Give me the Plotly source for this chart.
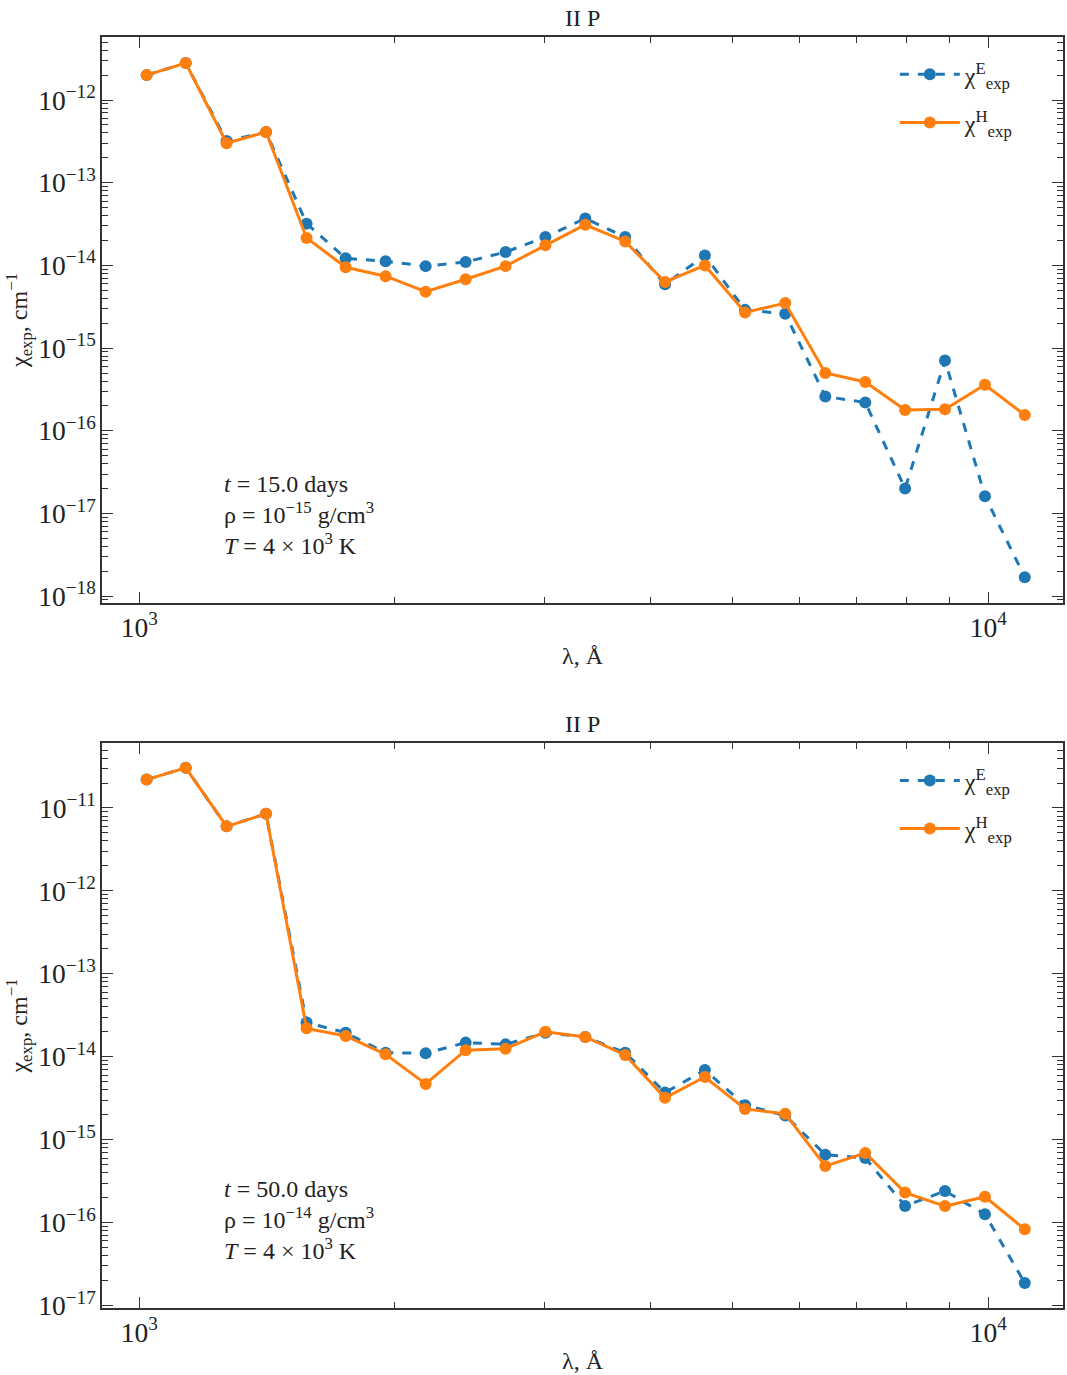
import plotly.graph_objects as go
from plotly.subplots import make_subplots

# wavelength grid, Angstrom
wavelength = [1020, 1134, 1267, 1410, 1574, 1750, 1950, 2174, 2423, 2700, 3008, 3352,
              3735, 4161, 4636, 5170, 5765, 6427, 7163, 7980, 8892, 9910, 11040]

# panel 1: t = 15 days
chi_E_15 = [2.0e-12, 2.8e-12, 3.2e-13, 4.1e-13, 3.2e-14, 1.22e-14, 1.12e-14, 9.8e-15,
            1.1e-14, 1.45e-14, 2.2e-14, 3.7e-14, 2.2e-14, 5.9e-15, 1.32e-14, 2.9e-15,
            2.6e-15, 2.6e-16, 2.2e-16, 2.0e-17, 7.1e-16, 1.62e-17, 1.7e-18]
chi_H_15 = [2.0e-12, 2.8e-12, 3.0e-13, 4.1e-13, 2.15e-14, 9.5e-15, 7.4e-15, 4.8e-15,
            6.8e-15, 9.8e-15, 1.75e-14, 3.1e-14, 1.95e-14, 6.3e-15, 1.0e-14, 2.7e-15,
            3.5e-15, 5.0e-16, 3.9e-16, 1.78e-16, 1.82e-16, 3.6e-16, 1.55e-16]

# panel 2: t = 50 days
chi_E_50 = [2.2e-11, 3.05e-11, 6.0e-12, 8.5e-12, 2.58e-14, 1.95e-14, 1.12e-14, 1.1e-14,
            1.48e-14, 1.41e-14, 1.95e-14, 1.73e-14, 1.12e-14, 3.7e-15, 6.9e-15, 2.6e-15,
            1.95e-15, 6.6e-16, 6.0e-16, 1.59e-16, 2.4e-16, 1.26e-16, 1.87e-17]
chi_H_50 = [2.2e-11, 3.05e-11, 6.0e-12, 8.5e-12, 2.2e-14, 1.78e-14, 1.07e-14, 4.7e-15,
            1.2e-14, 1.25e-14, 2.0e-14, 1.73e-14, 1.05e-14, 3.2e-15, 5.7e-15, 2.35e-15,
            2.05e-15, 4.8e-16, 6.9e-16, 2.3e-16, 1.58e-16, 2.05e-16, 8.3e-17]

panel_titles = ["II P", "II P"]
panel_notes = [
    "<i>t</i> = 15.0 days<br>ρ = 10<sup>−15</sup> g/cm<sup>3</sup><br><i>T</i> = 4 × 10<sup>3</sup> K",
    "<i>t</i> = 50.0 days<br>ρ = 10<sup>−14</sup> g/cm<sup>3</sup><br><i>T</i> = 4 × 10<sup>3</sup> K",
]
name_E = "χ<sup>E</sup><sub>exp</sub>"
name_H = "χ<sup>H</sup><sub>exp</sub>"

BLUE = "#1f77b4"
ORANGE = "#ff7f0e"
FONT = "Liberation Serif"

fig = make_subplots(rows=2, cols=1, vertical_spacing=0.11)

series = [(chi_E_15, chi_H_15, "legend"), (chi_E_50, chi_H_50, "legend2")]
for i, (e, h, lg) in enumerate(series, start=1):
    fig.add_trace(go.Scatter(x=wavelength, y=e, mode="lines+markers", name=name_E,
                             line=dict(color=BLUE, width=3, dash="dash"),
                             marker=dict(color=BLUE, size=12),
                             legend=lg, legendgroup=f"E{i}"), row=i, col=1)
    fig.add_trace(go.Scatter(x=wavelength, y=h, mode="lines+markers", name=name_H,
                             line=dict(color=ORANGE, width=3),
                             marker=dict(color=ORANGE, size=12),
                             legend=lg, legendgroup=f"H{i}"), row=i, col=1)

top_dom = [0.5547, 1.0]
bot_dom = [0.0, 0.4445]

axis_common = dict(type="log", showline=True, linecolor="#333", linewidth=1.5, mirror="allticks",
                   ticks="inside", ticklen=11, tickwidth=1.2, tickcolor="#333",
                   showgrid=False, zeroline=False,
                   tickfont=dict(family=FONT, size=22, color="#222"),
                   exponentformat="power", dtick=1,
                   minor=dict(ticks="inside", ticklen=6, tickwidth=1, tickcolor="#333",
                              dtick="D1", showgrid=False))

for r, dom, yr in [(1, top_dom, [-18.082, -11.238]), (2, bot_dom, [-17.03, -10.217])]:
    fig.update_xaxes(axis_common, row=r, col=1)
    fig.update_xaxes(range=[2.956, 4.088],
                     title=dict(text="λ, Å", font=dict(family=FONT, size=24, color="#222"), standoff=6),
                     row=r, col=1)
    fig.update_yaxes(axis_common, row=r, col=1)
    fig.update_yaxes(range=yr, domain=dom,
                     title=dict(text="χ<sub>exp</sub>, cm<sup>−1</sup>",
                                font=dict(family=FONT, size=24, color="#222"), standoff=4),
                     row=r, col=1)

legend_common = dict(xanchor="left", yanchor="top", bgcolor="rgba(0,0,0,0)",
                     font=dict(family=FONT, size=24), tracegroupgap=14, itemwidth=60)

fig.update_layout(
    width=1067, height=1375,
    margin=dict(l=102, r=2, t=37, b=67),
    paper_bgcolor="white", plot_bgcolor="white",
    font=dict(family=FONT, size=20, color="#222"),
    legend=dict(legend_common, x=0.825, y=0.988),
    legend2=dict(legend_common, x=0.825, y=0.4325),
)

# panel titles
for dom, title in zip([top_dom, bot_dom], panel_titles):
    fig.add_annotation(text=title, xref="paper", yref="paper", x=0.5, y=dom[1],
                       xanchor="center", yanchor="bottom", yshift=4, showarrow=False,
                       font=dict(family=FONT, size=24, color="#222"))

# condition notes
for r, note in zip([1, 2], panel_notes):
    xr = "x" if r == 1 else "x2"
    yr = "y domain" if r == 1 else "y2 domain"
    fig.add_annotation(text=note, xref=f"{xr} domain", yref=yr, x=0.125, y=0.155,
                       xanchor="left", yanchor="middle", align="left", showarrow=False,
                       font=dict(family=FONT, size=24, color="#222"))

fig.write_html("out.html")
